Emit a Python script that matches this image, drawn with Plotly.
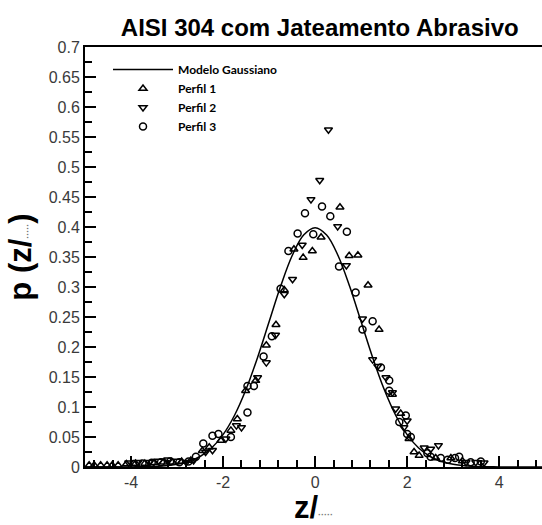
import plotly.graph_objects as go

# ---- Data ----
# Gaussian model curve (tabulated points)
model_x = [-5.0, -4.75, -4.5, -4.25, -4.0, -3.75, -3.5, -3.25, -3.0, -2.75, -2.5, -2.25,
           -2.0, -1.75, -1.5, -1.25, -1.0, -0.75, -0.5, -0.25, 0.0, 0.25, 0.5, 0.75,
           1.0, 1.25, 1.5, 1.75, 2.0, 2.25, 2.5, 2.75, 3.0, 3.25, 3.5, 3.75, 4.0,
           4.25, 4.5, 4.75, 5.0]
model_y = [0.0000, 0.0000, 0.0000, 0.0001, 0.0001, 0.0004, 0.0009, 0.0020, 0.0044,
           0.0091, 0.0175, 0.0317, 0.0540, 0.0863, 0.1295, 0.1826, 0.2420, 0.3011,
           0.3521, 0.3867, 0.3989, 0.3867, 0.3521, 0.3011, 0.2420, 0.1826, 0.1295,
           0.0863, 0.0540, 0.0317, 0.0175, 0.0091, 0.0044, 0.0020, 0.0009, 0.0004,
           0.0001, 0.0001, 0.0000, 0.0000, 0.0000]

# Perfil 1 (triangle up)
p1_x = [-4.91, -4.80, -4.66, -4.52, -4.41, -4.28, -4.10, -3.90, -3.70, -3.50, -3.30,
        -3.10, -2.90, -2.70, -2.45, -2.30, -2.05, -1.83, -1.69, -1.51, -1.29, -1.06,
        -0.85, -0.67, -0.46, -0.26, -0.06, 0.13, 0.54, 0.74, 0.93, 1.15, 1.39, 1.68,
        1.86, 2.04, 2.15, 2.26, 2.62, 2.95, 3.20]
p1_y = [0.003, 0.003, 0.003, 0.003, 0.003, 0.003, 0.005, 0.006, 0.006, 0.007, 0.008,
        0.008, 0.009, 0.011, 0.027, 0.033, 0.044, 0.061, 0.080, 0.127, 0.144, 0.203,
        0.237, 0.295, 0.363, 0.349, 0.360, 0.383, 0.433, 0.352, 0.353, 0.303, 0.229,
        0.121, 0.089, 0.047, 0.025, 0.019, 0.015, 0.015, 0.010]

# Perfil 2 (triangle down)
p2_x = [-4.05, -3.85, -3.60, -3.40, -3.20, -3.00, -2.80, -2.64, -2.38, -2.23, -1.94,
        -1.71, -1.60, -1.25, -1.06, -0.86, -0.67, -0.49, -0.28, -0.09, 0.10, 0.29,
        0.49, 0.68, 1.03, 1.25, 1.36, 1.54, 1.68, 1.75, 1.93, 2.00, 2.37, 2.51, 2.68,
        3.28, 3.49, 3.67]
p2_y = [0.007, 0.008, 0.008, 0.010, 0.012, 0.010, 0.008, 0.011, 0.025, 0.028, 0.047,
        0.069, 0.066, 0.149, 0.174, 0.220, 0.288, 0.313, 0.370, 0.446, 0.478, 0.562,
        0.401, 0.336, 0.247, 0.179, 0.168, 0.149, 0.124, 0.097, 0.066, 0.077, 0.032,
        0.030, 0.036, 0.008, 0.008, 0.007]

# Perfil 3 (circle)
p3_x = [-3.95, -3.75, -3.55, -3.35, -3.15, -2.95, -2.75, -2.59, -2.43, -2.23, -2.10,
        -1.83, -1.47, -1.47, -1.33, -1.12, -0.94, -0.75, -0.58, -0.38, -0.22, -0.04,
        0.15, 0.33, 0.52, 0.69, 0.88, 1.03, 1.25, 1.43, 1.61, 1.61, 1.83, 1.97, 2.00,
        2.08, 2.44, 2.51, 2.73, 2.88, 3.04, 3.13, 3.38, 3.60]
p3_y = [0.005, 0.006, 0.007, 0.008, 0.009, 0.008, 0.009, 0.017, 0.039, 0.052, 0.055,
        0.050, 0.091, 0.135, 0.135, 0.184, 0.218, 0.297, 0.360, 0.389, 0.423, 0.388,
        0.434, 0.418, 0.334, 0.392, 0.291, 0.229, 0.243, 0.166, 0.144, 0.127, 0.075,
        0.086, 0.055, 0.050, 0.023, 0.017, 0.015, 0.012, 0.015, 0.017, 0.008, 0.009]

x_tickvals = [-4, -2, 0, 2, 4]
x_ticktext = ["-4", "-2", "0", "2", "4"]

# ---- Figure ----
fig = go.Figure()
fig.add_trace(go.Scatter(x=model_x, y=model_y, mode="lines", name="Modelo Gaussiano",
                         line=dict(color="black", width=1.5, shape="spline")))
marker_line = dict(color="black", width=1.5)
fig.add_trace(go.Scatter(x=p1_x, y=p1_y, mode="markers", name="Perfil 1",
                         marker=dict(symbol="triangle-up-open", size=7, color="black", line=marker_line)))
fig.add_trace(go.Scatter(x=p2_x, y=p2_y, mode="markers", name="Perfil 2",
                         marker=dict(symbol="triangle-down-open", size=7, color="black", line=marker_line)))
fig.add_trace(go.Scatter(x=p3_x, y=p3_y, mode="markers", name="Perfil 3",
                         marker=dict(symbol="circle-open", size=7, color="black", line=marker_line)))

tick_font = dict(family="Liberation Sans, Arial", size=16, color="#3a3a3a")

fig.update_layout(
    width=542, height=525,
    margin=dict(l=85, r=0, t=47, b=55),
    paper_bgcolor="white", plot_bgcolor="white",
    title=dict(text="AISI 304 com Jateamento Abrasivo",
               font=dict(family="Liberation Sans, Arial", size=24, color="black", weight="bold"),
               x=0.59, xanchor="center", xref="container",
               y=0.948, yanchor="middle", yref="container"),
    showlegend=True,
    legend=dict(x=(108 - 85) / 457, y=1 - (55 - 47) / 423, xanchor="left", yanchor="top",
                bgcolor="rgba(0,0,0,0)", borderwidth=0, itemwidth=60,
                font=dict(family="Lato, Open Sans", size=12, color="black", weight="bold"),
                tracegroupgap=0),
    xaxis=dict(range=[-5, 4.93], showgrid=False, zeroline=False,
               tickmode="array", tickvals=x_tickvals, ticktext=x_ticktext,
               ticks="inside", ticklen=11, tickwidth=2, tickcolor="black",
               showline=True, linecolor="black", linewidth=2, mirror=True,
               tickfont=tick_font,
               minor=dict(ticks="inside", ticklen=7, tickwidth=2, tickcolor="black",
                          dtick=0.4, tick0=0, showgrid=False),
               title=dict(text="z/<span style='font-size:9px;color:#777'>·····</span>",
                          font=dict(family="Liberation Sans, Arial", size=31, color="black", weight="bold"),
                          standoff=12)),
    yaxis=dict(range=[0, 0.7], showgrid=False, zeroline=False,
               dtick=0.05, tick0=0,
               ticks="inside", ticklen=11, tickwidth=2, tickcolor="black",
               showline=True, linecolor="black", linewidth=2, mirror=False,
               tickfont=tick_font,
               minor=dict(ticks="inside", ticklen=7, tickwidth=2, tickcolor="black",
                          dtick=0.025, tick0=0, showgrid=False),
               title=dict(text="p (z/<span style='font-size:9px;color:#777'>·····</span>)",
                          font=dict(family="Liberation Sans, Arial", size=31, color="black", weight="bold"),
                          standoff=8)),
)

fig.write_html("out.html")
